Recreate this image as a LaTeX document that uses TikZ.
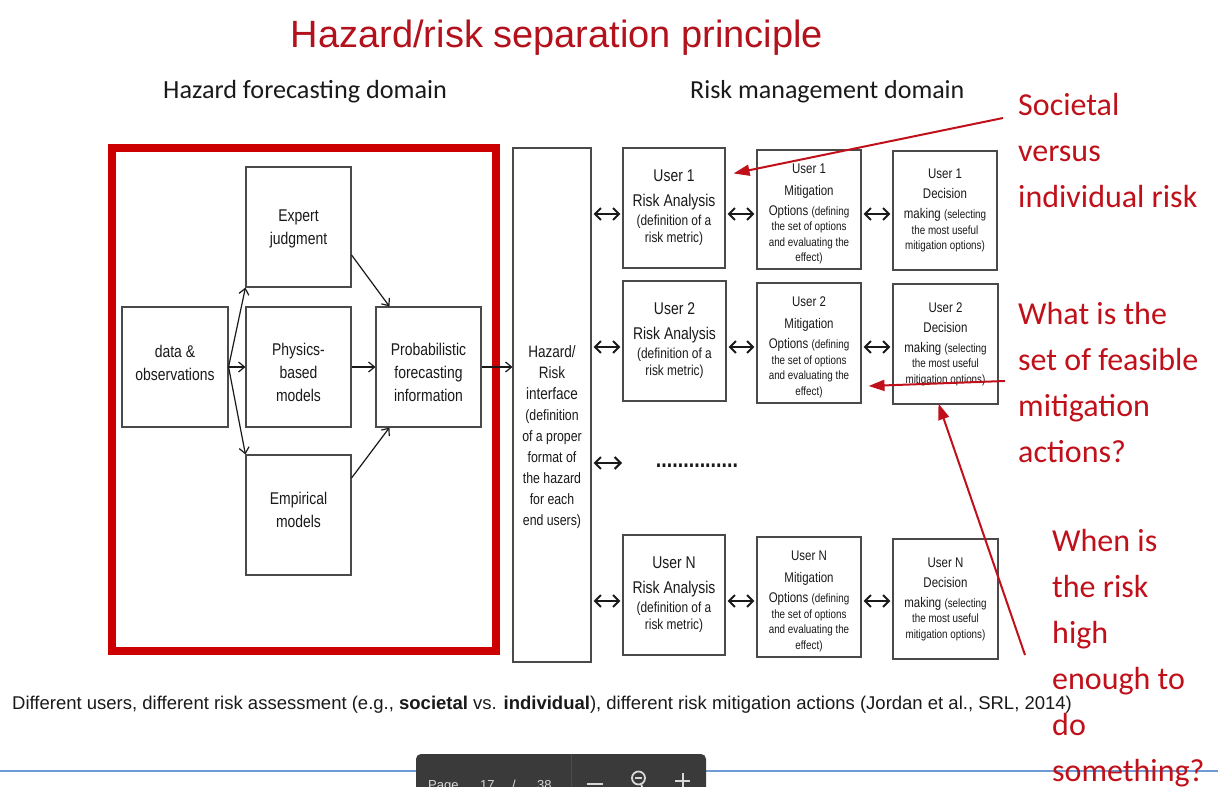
\documentclass[tikz,border=0pt]{standalone}
\usepackage{fontspec}
\setmainfont{Liberation Sans}
\newfontfamily\nsans{Liberation Sans}[FakeStretch=0.82]
\newfontfamily\calfont{Carlito}
\usetikzlibrary{arrows.meta,calc}
\definecolor{tred}{HTML}{B3121C}
\definecolor{ared}{HTML}{C0101A}
\definecolor{fred}{HTML}{CC0000}
\definecolor{bgray}{HTML}{4A4A4A}
\definecolor{txt}{HTML}{1A1A1A}
\definecolor{lblue}{HTML}{6E9AD6}
\definecolor{tbar}{HTML}{3A3A3A}
\definecolor{tbtxt}{HTML}{D8D8D8}
\newcommand{\fa}{\fontsize{17}{17}\selectfont}
\newcommand{\fb}{\fontsize{14.5}{17}\selectfont}
\newcommand{\fc}{\fontsize{14}{15.5}\selectfont}
\newcommand{\fd}{\fontsize{12}{15.5}\selectfont}
\newcommand{\fh}{\fontsize{16.5}{21}\selectfont}
\newcommand{\fg}{\fontsize{15}{21}\selectfont}
\newcommand{\up}[1]{\rule{0pt}{#1}}
\newcommand{\dn}[1]{\rule[-#1]{0pt}{#1}}
\begin{document}
\begin{tikzpicture}[x=1pt,y=-1pt,
  box/.style={draw=bgray, line width=1.1pt, fill=white, inner sep=0pt, align=center, text=txt},
  lbox/.style={box, minimum width=105pt, minimum height=120pt, font=\nsans\fontsize{17}{23}\selectfont},
  rabox/.style={box, minimum width=103pt, minimum height=120pt, font=\nsans\fontsize{17}{17}\selectfont},
  mobox/.style={box, minimum width=104pt, minimum height=120pt, font=\nsans\fontsize{14}{15.5}\selectfont},
  arr/.style={-{Straight Barb[length=6pt,width=10pt]}, line width=1.2pt, draw=txt},
  darr/.style={{Straight Barb[length=6pt,width=12pt]}-{Straight Barb[length=6pt,width=12pt]}, line width=2pt, draw=txt, shorten <=2pt, shorten >=2pt},
  rarr/.style={-{Triangle[length=16pt,width=11pt]}, line width=2pt, draw=ared},
  note/.style={font=\calfont\fontsize{32}{46}\selectfont, text=ared, align=left, inner sep=0pt},
  hdr/.style={font=\calfont\fontsize{26.2}{26.2}\selectfont, text=txt, inner sep=0pt},
  tb/.style={anchor=base west, inner sep=0pt, font=\fontsize{13}{13}\selectfont, text=tbtxt}
]
\clip (0,0) rectangle (1224,787);
\fill[white] (0,0) rectangle (1224,787);

% title and headers
\node[font=\fontsize{38}{38}\selectfont, text=tred, anchor=base, inner sep=0pt] (title) at (557,47) {Hazard/risk separation principle};
\node[hdr, anchor=base west] (hf) at (163,98) {Hazard forecasting domain};
\node[hdr, anchor=base west, font=\calfont\fontsize{26}{26}\selectfont] (rm) at (690,98) {Risk management domain};

% hazard forecasting domain
\draw[fred, line width=8pt] (112,148) rectangle (496,651);
\node[lbox, minimum width=106pt] (dat) at (175,367) {data \&\\ observations\dn{8pt}};
\node[lbox] (exp) at (298.5,227) {\up{16pt}Expert\\ judgment};
\node[lbox] (phy) at (298.5,367) {\up{24pt}Physics-\\ based\\ models};
\node[lbox] (emp) at (298.5,515) {Empirical\\ models\dn{10pt}};
\node[lbox] (prob) at (428.5,367) {\up{24pt}Probabilistic\\ forecasting\\ information};

\draw[arr] (dat.east) -- (exp.south west);
\draw[arr] (dat.east) -- (phy.west);
\draw[arr] (dat.east) -- (emp.north west);
\draw[arr] ($(exp.east)+(0,28)$) -- ($(prob.north west)+(14,0)$);
\draw[arr] (phy.east) -- (prob.west);
\draw[arr] ($(emp.east)+(0,-37)$) -- ($(prob.south west)+(14,0)$);

% interface
\node[box, minimum width=78pt, minimum height=514pt] (haz) at (552,405) {};
\node[font=\nsans\fontsize{15}{21}\selectfont, text=txt, align=center, inner sep=0pt] (haztxt) at (552,437)
  {\fh Hazard/\\ \fh Risk\\ \fh interface\\ \fg (definition\\ \fg of a proper\\ \fg format of\\ \fg the hazard\\ \fg for each\\ \fg end users)};
\draw[arr] (prob.east) -- (prob.east -| haz.west);

% risk management rows
\node[rabox, minimum width=102pt] (ra1) at (674,208) {\fa User 1\\[8pt] \fa Risk Analysis\\[2pt] \fb (definition of a\\ \fb risk metric)};
\node[mobox, minimum height=119pt] (mo1) at (809,209.5) {\fc\up{18pt}User 1\\[6.5pt] \fc Mitigation\\[4.5pt] \fc Options {\fd (defining}\\ \fd the set of options\\ \fd and evaluating the\\ \fd effect)};
\node[mobox, minimum height=119pt] (dm1) at (945,210.5) {\fc User 1\\[4.5pt] \fc Decision\\[4.5pt] \fc making {\fd (selecting}\\ \fd the most useful\\ \fd mitigation options)};

\node[rabox] (ra2) at (674.5,341) {\fa User 2\\[8pt] \fa Risk Analysis\\[2pt] \fb (definition of a\\ \fb risk metric)};
\node[mobox] (mo2) at (809,343) {\fc\up{18pt}User 2\\[6.5pt] \fc Mitigation\\[4.5pt] \fc Options {\fd (defining}\\ \fd the set of options\\ \fd and evaluating the\\ \fd effect)};
\node[mobox, minimum width=105pt] (dm2) at (945.5,344) {\fc User 2\\[4.5pt] \fc Decision\\[4.5pt] \fc making {\fd (selecting}\\ \fd the most useful\\ \fd mitigation options)};

\node[rabox, minimum width=102pt] (ran) at (674,595) {\fa User N\\[8pt] \fa Risk Analysis\\[2pt] \fb (definition of a\\ \fb risk metric)};
\node[mobox] (mon) at (809,597) {\fc\up{18pt}User N\\[6.5pt] \fc Mitigation\\[4.5pt] \fc Options {\fd (defining}\\ \fd the set of options\\ \fd and evaluating the\\ \fd effect)};
\node[mobox, minimum width=105pt] (dmn) at (945.5,599) {\fc User N\\[4.5pt] \fc Decision\\[4.5pt] \fc making {\fd (selecting}\\ \fd the most useful\\ \fd mitigation options)};

\foreach \r/\m/\d in {ra1/mo1/dm1, ra2/mo2/dm2, ran/mon/dmn}{
  \draw[darr] ($(\r.west -| haz.east)+(0,6)$) -- ($(\r.west)+(0,6)$);
  \draw[darr] ($(\r.east)+(0,6)$) -- ($(\r.east -| \m.west)+(0,6)$);
  \draw[darr] ($(\r.east -| \m.east)+(0,6)$) -- ($(\r.east -| \d.west)+(0,6)$);
}
\coordinate (dend) at (624,463);
\draw[darr] (haz.east |- dend) -- (dend);
\node[font=\nsans\bfseries\fontsize{24}{24}\selectfont, text=txt, inner sep=0pt, anchor=base] (dots) at (697,467) {...............};

% caption
\node[anchor=base west, inner sep=0pt, font=\fontsize{18.5}{18.5}\selectfont, text=txt] (cap) at (12,709)
  {Different users, different risk assessment (e.g., \textbf{societal} vs. \textbf{individual}), different risk mitigation actions (Jordan et al., SRL, 2014)};

% viewer bar
\draw[lblue, line width=1.5pt] (0,771) -- (1218,771);
\fill[tbar, rounded corners=5pt] (416,754) rectangle (706,810);
\draw[gray!60!black, line width=0.8pt] (571,754) -- (571,787);
\node[tb] (pg) at (428,789) {Page};
\node[tb] (pgn) at (480,789) {17};
\node[tb] (pgs) at (512,789) {/};
\node[tb] (pgt) at (537,789) {38};
\draw[tbtxt, line width=2pt] (587,784) -- (603,784);
\draw[tbtxt, line width=1.8pt] (638.5,778) circle (6.5);
\draw[tbtxt, line width=1.5pt] (635,778) -- (642,778);
\draw[tbtxt, line width=1.8pt] (641,784) -- (643,789);
\draw[tbtxt, line width=2pt] (675,781) -- (690,781);
\draw[tbtxt, line width=2pt] (682.5,773) -- (682.5,790);

% red annotations
\node[note, anchor=base west] (n1) at (1018,207) {Societal\\versus\\individual risk};
\node[note, anchor=base west] (n2) at (1018,462) {What is the\\set of feasible\\mitigation\\actions?};
\node[note, anchor=base west] (n3) at (1052,781) {When is\\the risk\\high\\enough to\\do\\something?};

\coordinate (t1) at (1003,118);
\coordinate (t2) at (1005,381);
\coordinate (t3) at (1025,655);
\draw[rarr] (t1) -- ($(ra1.north east)+(8,26)$);
\draw[rarr] (t2) -- ($(mo2.east)+(7,43)$);
\draw[rarr] (t3) -- ($(dm2.south)+(-7,-1)$);
\end{tikzpicture}
\end{document}
